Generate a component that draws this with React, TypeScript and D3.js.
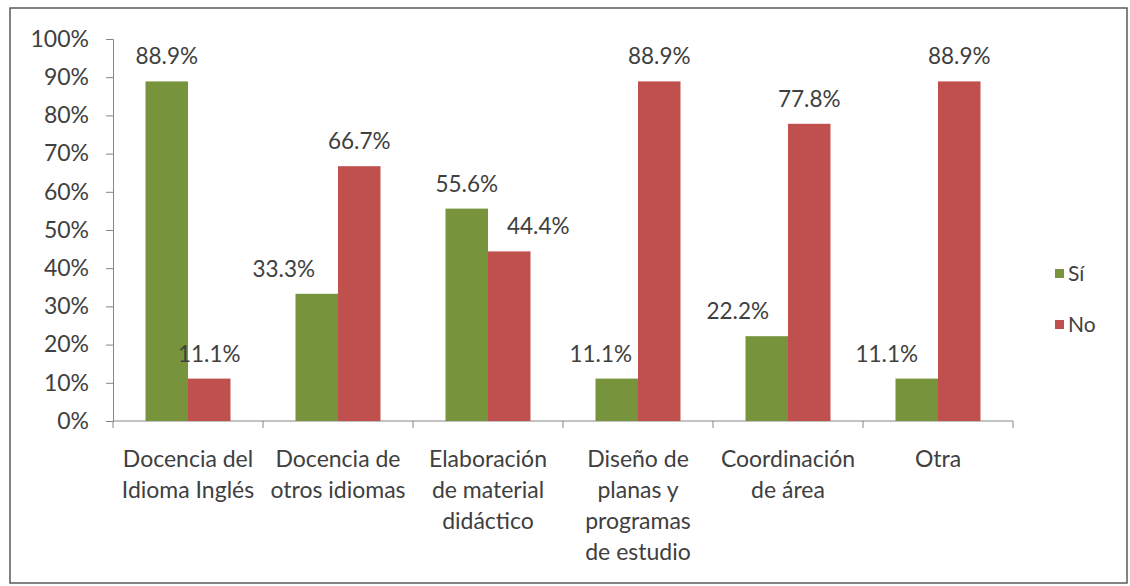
import { useEffect, useRef } from "react";
import * as d3 from "d3";

const categories = [
  "Docencia del|Idioma Inglés",
  "Docencia de|otros idiomas",
  "Elaboración|de material|didáctico",
  "Diseño de|planas y|programas|de estudio",
  "Coordinación|de área",
  "Otra",
];
const series = ["Sí", "No"];
const siValues = [0.889, 0.333, 0.556, 0.111, 0.222, 0.111];
const noValues = [0.111, 0.667, 0.444, 0.889, 0.778, 0.889];
const yTicks = [0, 0.1, 0.2, 0.3, 0.4, 0.5, 0.6, 0.7, 0.8, 0.9, 1];

// hand-placed label nudges from the original (px)
const siNudge = [0, -33, 0, -16, -29, -30];
const noNudge = [0, 0, 29, 0, 0, 0];

const COLORS: Record<string, string> = { "Sí": "#77933c", No: "#c0504d" };
const FONT = "Lato, 'Noto Sans', sans-serif";
const TEXT = "#404040";

export default function App() {
  const ref = useRef<SVGSVGElement>(null);

  useEffect(() => {
    if (!ref.current) return;
    const w = 1130;
    const h = 586;
    const m = { top: 39, left: 113, right: 1013, bottom: 421 };

    const svg = d3.select(ref.current);
    svg.selectAll("*").remove();
    svg.attr("width", w).attr("height", h).attr("viewBox", `0 0 ${w} ${h}`);

    svg.append("rect").attr("width", w).attr("height", h).attr("fill", "#fff");
    svg
      .append("rect")
      .attr("x", 10)
      .attr("y", 8)
      .attr("width", 1117)
      .attr("height", 575)
      .attr("fill", "none")
      .attr("stroke", "#595959")
      .attr("stroke-width", 1.5);

    const x = d3.scaleBand().domain(categories).range([m.left, m.right]).padding(0);
    const xs = d3.scaleBand().domain(series).range([0, x.bandwidth()]).paddingInner(0).paddingOuter(0.765);
    const y = d3.scaleLinear().domain([0, 1]).range([m.bottom, m.top]);

    // y axis
    const ya = svg
      .append("g")
      .attr("transform", `translate(${m.left},0)`)
      .call(d3.axisLeft(y).tickValues(yTicks).tickSize(7).tickPadding(17).tickFormat(d3.format(".0%")));
    ya.select(".domain").attr("stroke", "#868686");
    ya.selectAll(".tick line").attr("stroke", "#868686");
    ya.selectAll(".tick text").attr("font-family", FONT).attr("font-size", 23).attr("fill", TEXT);

    // x axis line + boundary ticks
    svg
      .append("line")
      .attr("x1", m.left)
      .attr("x2", m.right)
      .attr("y1", y(0))
      .attr("y2", y(0))
      .attr("stroke", "#868686");
    const bounds = categories.map((c) => x(c)!).concat([m.right]);
    svg
      .selectAll(".xtick")
      .data(bounds)
      .join("line")
      .attr("x1", (d) => d)
      .attr("x2", (d) => d)
      .attr("y1", y(0))
      .attr("y2", y(0) + 7)
      .attr("stroke", "#868686");

    const rows = categories.map((c, i) => ({ c, i, vals: [siValues[i], noValues[i]] }));

    rows.forEach((r) => {
      series.forEach((s, j) => {
        const v = r.vals[j];
        const bx = x(r.c)! + xs(s)!;
        svg
          .append("rect")
          .attr("x", bx)
          .attr("y", y(v))
          .attr("width", xs.bandwidth())
          .attr("height", y(0) - y(v))
          .attr("fill", COLORS[s]);
        const nudge = j === 0 ? siNudge[r.i] : noNudge[r.i];
        svg
          .append("text")
          .attr("x", bx + xs.bandwidth() / 2 + nudge)
          .attr("y", y(v) - 17)
          .attr("text-anchor", "middle")
          .attr("font-family", FONT)
          .attr("font-size", 22.5)
          .attr("fill", TEXT)
          .text(d3.format(".1%")(v));
      });

      const lines = r.c.split("|");
      const t = svg
        .append("text")
        .attr("x", x(r.c)! + x.bandwidth() / 2)
        .attr("y", y(0) + 46)
        .attr("text-anchor", "middle")
        .attr("font-family", FONT)
        .attr("font-size", 23)
        .attr("fill", TEXT);
      lines.forEach((l, k) => {
        t.append("tspan")
          .attr("x", x(r.c)! + x.bandwidth() / 2)
          .attr("dy", k === 0 ? 0 : 31)
          .text(l);
      });
    });

    // legend
    const lg = svg.append("g").attr("transform", "translate(1055,273)");
    series.forEach((s, i) => {
      const g = lg.append("g").attr("transform", `translate(0,${i * 51})`);
      g.append("rect").attr("x", 0).attr("y", -4).attr("width", 9).attr("height", 9).attr("fill", COLORS[s]);
      g.append("text")
        .attr("x", 13)
        .attr("y", 8)
        .attr("font-family", FONT)
        .attr("font-size", 21)
        .attr("fill", TEXT)
        .text(s);
    });
  }, []);

  return <svg ref={ref} style={{ position: "absolute", left: 0, top: 0, display: "block" }} />;
}
